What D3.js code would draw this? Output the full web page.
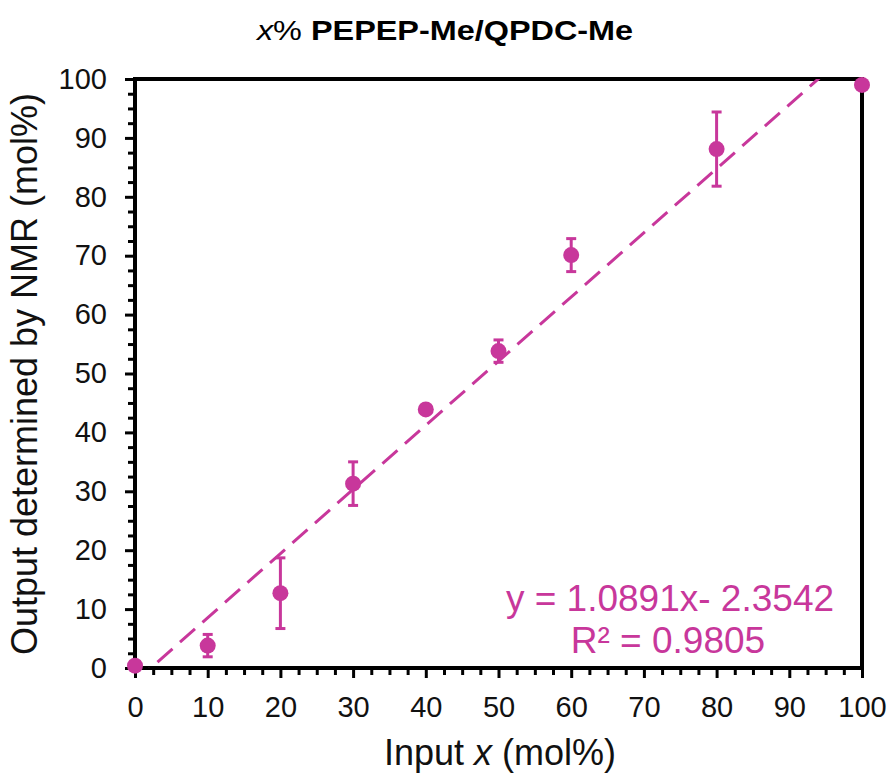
<!DOCTYPE html>
<html>
<head>
<meta charset="utf-8">
<script src="https://cdn.jsdelivr.net/npm/d3@7"></script>
<style>
  body { margin: 0; background: #fff; }
  text { font-family: "Liberation Sans", Arial, sans-serif; }
</style>
</head>
<body>
<div id="chart"></div>
<script>
// data
const inputX = [0, 10, 20, 30, 40, 50, 60, 80, 100]
const outputY = [0.4, 3.8, 12.7, 31.3, 43.9, 53.8, 70.1, 88.1, 99.0]
const errY = [0, 1.9, 6.0, 3.7, 0, 1.9, 2.8, 6.3, 0]
const fitSlope = 1.0891
const fitIntercept = -2.3542
const fitR2 = 0.9805
const majorTicks = [0, 10, 20, 30, 40, 50, 60, 70, 80, 90, 100]

const color = '#c8379b'

// set the dimensions and margins of the graph
var margin = { top: 79, right: 30, bottom: 105, left: 135 },
    width = 892 - margin.left - margin.right,
    height = 773 - margin.top - margin.bottom;

var svg = d3.select("#chart")
    .append("svg")
    .attr("width", 892)
    .attr("height", 773)

var g = svg.append("g")
    .attr("transform", "translate(" + margin.left + "," + margin.top + ")");

var x = d3.scaleLinear().domain([0, 100]).range([0, width])
var y = d3.scaleLinear().domain([0, 100]).range([height, 0])

var minorTicks = d3.range(0, 100.01, 2.5).filter(d => d % 10 !== 0)

// minor ticks
g.append("g")
    .attr("transform", "translate(0," + height + ")")
    .call(d3.axisBottom(x).tickValues(minorTicks).tickSize(7).tickFormat(""))
g.append("g")
    .call(d3.axisLeft(y).tickValues(minorTicks).tickSize(7).tickFormat(""))

// major ticks + labels
var xAxis = g.append("g")
    .attr("transform", "translate(0," + height + ")")
    .call(d3.axisBottom(x).tickValues(majorTicks).tickSize(10).tickPadding(18))
var yAxis = g.append("g")
    .call(d3.axisLeft(y).tickValues(majorTicks).tickSize(10).tickPadding(18))

g.selectAll(".domain").remove()
g.selectAll(".tick line").attr("stroke", "#000").attr("stroke-width", 3)
g.selectAll(".tick text").attr("font-size", 29).attr("fill", "#111")
    .style("font-family", "'Liberation Sans', Arial, sans-serif")

// plot frame
g.append("rect")
    .attr("x", 0).attr("y", 0)
    .attr("width", width).attr("height", height)
    .attr("fill", "none")
    .attr("stroke", "#000")
    .attr("stroke-width", 4)

// trendline clipped to plot area
svg.append("clipPath").attr("id", "clip")
    .append("rect").attr("width", width).attr("height", height)

g.append("line")
    .attr("clip-path", "url(#clip)")
    .attr("x1", x(0)).attr("y1", y(fitIntercept))
    .attr("x2", x(100)).attr("y2", y(fitSlope * 100 + fitIntercept))
    .attr("stroke", color)
    .attr("stroke-width", 3)
    .attr("stroke-dasharray", "20,10")

var pts = inputX.map((d, i) => ({ x: d, y: outputY[i], e: errY[i] }))

// error bars
var eb = g.selectAll(".err").data(pts.filter(d => d.e > 0)).enter().append("g")
eb.append("line")
    .attr("x1", d => x(d.x)).attr("x2", d => x(d.x))
    .attr("y1", d => y(d.y - d.e)).attr("y2", d => y(d.y + d.e))
    .attr("stroke", color).attr("stroke-width", 3)
eb.append("line")
    .attr("x1", d => x(d.x) - 5).attr("x2", d => x(d.x) + 5)
    .attr("y1", d => y(d.y + d.e)).attr("y2", d => y(d.y + d.e))
    .attr("stroke", color).attr("stroke-width", 3)
eb.append("line")
    .attr("x1", d => x(d.x) - 5).attr("x2", d => x(d.x) + 5)
    .attr("y1", d => y(d.y - d.e)).attr("y2", d => y(d.y - d.e))
    .attr("stroke", color).attr("stroke-width", 3)

// points
g.selectAll(".pt").data(pts).enter().append("circle")
    .attr("cx", d => x(d.x))
    .attr("cy", d => y(d.y))
    .attr("r", 8)
    .attr("fill", color)

// equation (two separate lines)
g.append("text")
    .attr("x", 535).attr("y", 532)
    .attr("text-anchor", "middle")
    .attr("font-size", 37)
    .attr("fill", color)
    .text("y = " + fitSlope.toFixed(4) + "x- " + Math.abs(fitIntercept).toFixed(4))
g.append("text")
    .attr("x", 533).attr("y", 574)
    .attr("text-anchor", "middle")
    .attr("font-size", 37)
    .attr("fill", color)
    .text("R\u00b2 = " + fitR2.toFixed(4))

// axis titles
var xt = svg.append("text")
    .attr("x", 500).attr("y", 765)
    .attr("text-anchor", "middle")
    .attr("font-size", 36)
    .attr("fill", "#111")
xt.append("tspan").text("Input ")
xt.append("tspan").attr("font-style", "italic").text("x")
xt.append("tspan").text(" (mol%)")

svg.append("text")
    .attr("transform", "translate(37,374) rotate(-90)")
    .attr("text-anchor", "middle")
    .attr("font-size", 36)
    .attr("fill", "#111")
    .text("Output determined by NMR (mol%)")

// chart title
var tt = svg.append("text")
    .attr("transform", "translate(445,40) scale(1.2,1)")
    .attr("text-anchor", "middle")
    .attr("font-size", 27)
    .attr("fill", "#000")
tt.append("tspan").attr("font-style", "italic").text("x")
tt.append("tspan").text("% ")
tt.append("tspan").attr("font-weight", "bold").text("PEPEP-Me/QPDC-Me")
</script>
</body>
</html>
